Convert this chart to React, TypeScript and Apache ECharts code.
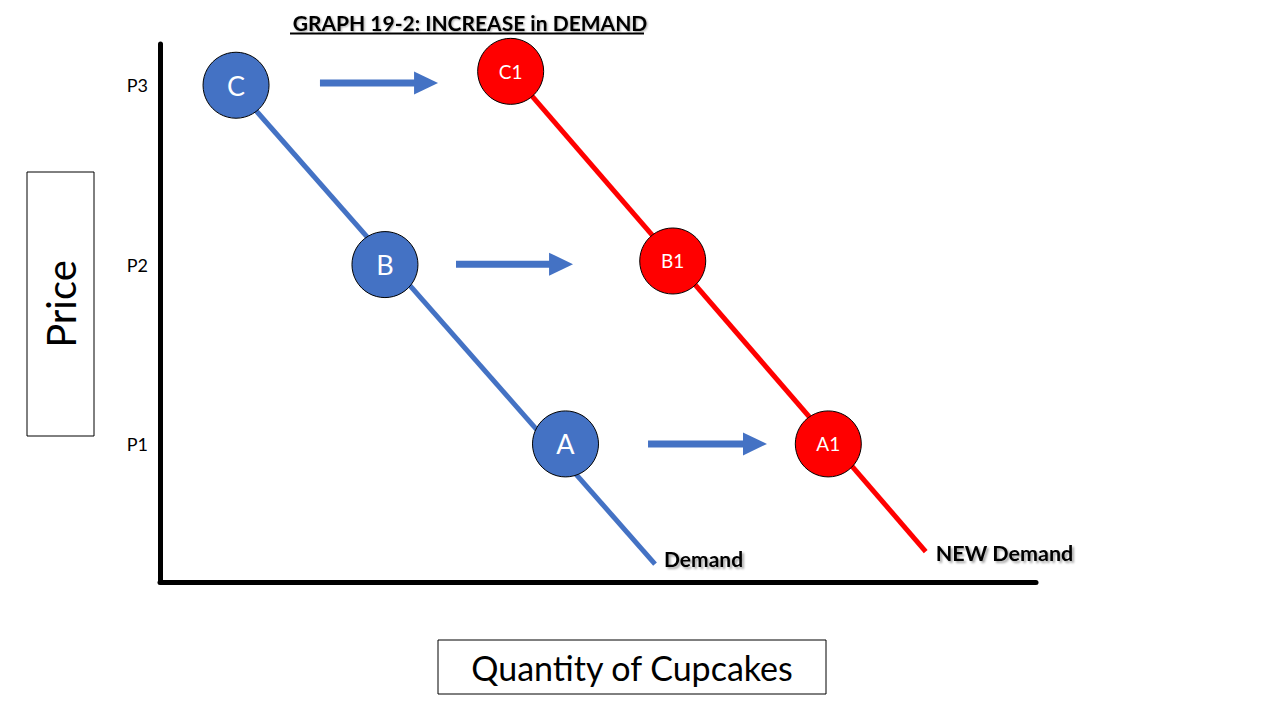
import React, { useEffect, useRef } from "react";
import * as echarts from "echarts";

// Price levels and their tick labels
const priceTicks = [3.08, 7.08, 11.08];
const priceTickLabels = ["P1", "P2", "P3"];

// Original demand curve (start and end)
const demandLine = [
  [8.68, 11.02],
  [56.51, 0.4],
];
// New demand curve (start and end)
const newDemandLine = [
  [40.03, 11.39],
  [87.41, 0.68],
];

// Points on the original demand curve
const demandPointNames = ["C", "B", "A"];
const demandPoints = [
  [8.68, 11.08],
  [25.68, 7.08],
  [46.29, 3.08],
];
// Points on the new demand curve
const newDemandPointNames = ["C1", "B1", "A1"];
const newDemandPoints = [
  [40.03, 11.39],
  [58.53, 7.16],
  [76.29, 3.08],
];

// Shift arrows: [fromQuantity, toQuantity, price]
const shiftArrows = [
  [18.26, 31.74, 11.13],
  [33.79, 47.15, 7.09],
  [55.71, 69.29, 3.08],
];

const BLUE = "#4472C4";
const RED = "#FF0000";
const FONT = "Lato";

export default function App() {
  const ref = useRef<HTMLDivElement>(null);

  useEffect(() => {
    const chart = echarts.init(ref.current!, null, { renderer: "svg" });
    const shadow = {
      textShadowColor: "rgba(0,0,0,0.35)",
      textShadowBlur: 2,
      textShadowOffsetX: 2,
      textShadowOffsetY: 2,
    };
    chart.setOption({
      animation: false,
      backgroundColor: "#ffffff",
      title: {
        text: "GRAPH 19-2: INCREASE in DEMAND",
        left: 465,
        textAlign: "center",
        top: 7,
        textStyle: {
          fontFamily: FONT,
          fontWeight: "bold",
          fontSize: 21,
          color: "#000",
          ...shadow,
          textShadowOffsetX: 1,
          textShadowOffsetY: 1,
        },
      },
      graphic: [
        {
          type: "line",
          shape: { x1: 290, y1: 33.5, x2: 644, y2: 33.5 },
          style: { stroke: "#000", lineWidth: 2 },
          silent: true,
        },
      ],
      grid: { left: 160, right: 244, top: 44, bottom: 138 },
      xAxis: {
        type: "value",
        min: 0,
        max: 100,
        name: "{s| }{b|Quantity of Cupcakes}",
        nameLocation: "middle",
        nameGap: 58,
        nameTextStyle: {
          rich: {
            s: { width: 68, height: 54, lineHeight: 54, fontSize: 12 },
            b: {
              width: 388,
              height: 54,
              lineHeight: 54,
              align: "center",
              fontFamily: FONT,
              fontSize: 34,
              color: "#000",
              borderColor: "#000",
              borderWidth: 1,
            },
          },
        },
        axisLine: { show: true, lineStyle: { color: "#000", width: 5 } },
        axisTick: { show: false },
        axisLabel: { show: false },
        splitLine: { show: false },
      },
      yAxis: {
        type: "value",
        min: 0,
        max: 12,
        name: "{s| }{b|Price}",
        nameLocation: "middle",
        nameGap: 66,
        nameTextStyle: {
          rich: {
            s: { width: 18, height: 67, lineHeight: 67, fontSize: 12 },
            b: {
              width: 264,
              height: 67,
              lineHeight: 67,
              align: "center",
              fontFamily: FONT,
              fontSize: 40,
              color: "#000",
              borderColor: "#000",
              borderWidth: 1,
            },
          },
        },
        axisLine: { show: true, lineStyle: { color: "#000", width: 5 } },
        axisTick: { show: false },
        splitLine: { show: false },
        axisLabel: {
          show: true,
          customValues: priceTicks,
          margin: 12,
          fontFamily: FONT,
          fontSize: 18,
          color: "#000",
          formatter: (v: number) => {
            const i = priceTicks.findIndex((p) => Math.abs(p - v) < 1e-6);
            return i >= 0 ? priceTickLabels[i] : "";
          },
        },
      },
      series: [
        {
          type: "line",
          data: demandLine,
          symbol: "none",
          lineStyle: { color: BLUE, width: 5 },
          endLabel: {
            show: true,
            formatter: "Demand",
            distance: 9,
            offset: [0, -6],
            fontFamily: FONT,
            fontWeight: "bold",
            fontSize: 21,
            color: "#000",
            ...shadow,
          },
          z: 2,
        },
        {
          type: "line",
          data: newDemandLine,
          symbol: "none",
          lineStyle: { color: RED, width: 5 },
          endLabel: {
            show: true,
            formatter: "NEW Demand",
            distance: 10,
            offset: [0, 1],
            fontFamily: FONT,
            fontWeight: "bold",
            fontSize: 21.5,
            color: "#000",
            ...shadow,
          },
          z: 2,
        },
        {
          type: "custom",
          coordinateSystem: "cartesian2d",
          encode: { x: [0, 1], y: 2 },
          data: shiftArrows,
          renderItem: (params: any, api: any) => {
            const s = api.coord([api.value(0), api.value(2)]);
            const e = api.coord([api.value(1), api.value(2)]);
            const headLen = 24;
            const headHalf = 11.5;
            const shaftHalf = 3.5;
            return {
              type: "group",
              children: [
                {
                  type: "rect",
                  shape: {
                    x: s[0],
                    y: s[1] - shaftHalf,
                    width: e[0] - headLen - s[0] + 1,
                    height: shaftHalf * 2,
                  },
                  style: { fill: BLUE },
                },
                {
                  type: "polygon",
                  shape: {
                    points: [
                      [e[0] - headLen, e[1] - headHalf],
                      [e[0], e[1]],
                      [e[0] - headLen, e[1] + headHalf],
                    ],
                  },
                  style: { fill: BLUE },
                },
              ],
            };
          },
          z: 3,
        },
        {
          type: "scatter",
          data: demandPoints.map((p, i) => ({ value: p, name: demandPointNames[i] })),
          symbol: "circle",
          symbolSize: 66,
          itemStyle: { color: BLUE, borderColor: "#000", borderWidth: 1, opacity: 1 },
          label: {
            show: true,
            position: "inside",
            formatter: "{b}",
            color: "#fff",
            fontFamily: FONT,
            fontSize: 27,
          },
          z: 4,
        },
        {
          type: "scatter",
          data: newDemandPoints.map((p, i) => ({ value: p, name: newDemandPointNames[i] })),
          symbol: "circle",
          symbolSize: 66,
          itemStyle: { color: RED, borderColor: "#000", borderWidth: 1, opacity: 1 },
          label: {
            show: true,
            position: "inside",
            formatter: "{b}",
            color: "#fff",
            fontFamily: FONT,
            fontSize: 19,
          },
          z: 4,
        },
      ],
    });
    return () => chart.dispose();
  }, []);

  return (
    <div
      ref={ref}
      style={{ position: "fixed", left: 0, top: 0, width: 1280, height: 720, background: "#fff" }}
    />
  );
}
